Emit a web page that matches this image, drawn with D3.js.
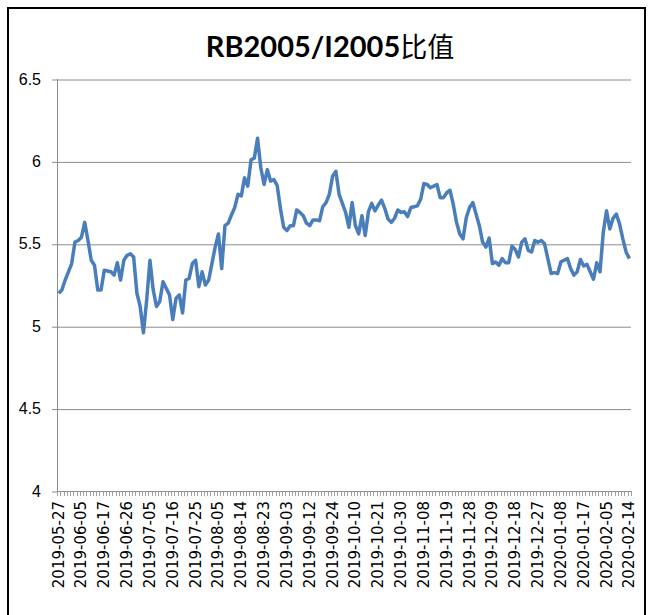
<html>
<head>
<meta charset="utf-8">
<title>RB2005/I2005比值</title>
<script src="https://d3js.org/d3.v7.min.js"></script>
<style>
  body { margin: 0; background: #fff; }
  .grid line { stroke: #8c8c8c; stroke-width: 1px; }
  .grid .domain { display: none; }
  .yaxis text { font-family: "Liberation Sans", Arial, sans-serif; font-size: 16px; fill: #000; }
  .xaxis text { font-family: "DejaVu Sans", sans-serif; font-size: 15px; fill: #000; }
  .line { fill: none; stroke: #4a7ebb; stroke-width: 3.5px; stroke-linejoin: round; }
</style>
</head>
<body>
<div id="chart"></div>
<script>
// trading days, one row per month
var dates = [
  "2019-05-27","2019-05-28","2019-05-29","2019-05-30","2019-05-31",
  "2019-06-03","2019-06-04","2019-06-05","2019-06-06","2019-06-10","2019-06-11","2019-06-12","2019-06-13","2019-06-14","2019-06-17","2019-06-18","2019-06-19","2019-06-20","2019-06-21","2019-06-24","2019-06-25","2019-06-26","2019-06-27","2019-06-28",
  "2019-07-01","2019-07-02","2019-07-03","2019-07-04","2019-07-05","2019-07-08","2019-07-09","2019-07-10","2019-07-11","2019-07-12","2019-07-15","2019-07-16","2019-07-17","2019-07-18","2019-07-19","2019-07-22","2019-07-23","2019-07-24","2019-07-25","2019-07-26","2019-07-29","2019-07-30","2019-07-31",
  "2019-08-01","2019-08-02","2019-08-05","2019-08-06","2019-08-07","2019-08-08","2019-08-09","2019-08-12","2019-08-13","2019-08-14","2019-08-15","2019-08-16","2019-08-19","2019-08-20","2019-08-21","2019-08-22","2019-08-23","2019-08-26","2019-08-27","2019-08-28","2019-08-29","2019-08-30",
  "2019-09-02","2019-09-03","2019-09-04","2019-09-05","2019-09-06","2019-09-09","2019-09-10","2019-09-11","2019-09-12","2019-09-16","2019-09-17","2019-09-18","2019-09-19","2019-09-20","2019-09-23","2019-09-24","2019-09-25","2019-09-26","2019-09-27","2019-09-30",
  "2019-10-08","2019-10-09","2019-10-10","2019-10-11","2019-10-14","2019-10-15","2019-10-16","2019-10-17","2019-10-18","2019-10-21","2019-10-22","2019-10-23","2019-10-24","2019-10-25","2019-10-28","2019-10-29","2019-10-30","2019-10-31",
  "2019-11-01","2019-11-04","2019-11-05","2019-11-06","2019-11-07","2019-11-08","2019-11-11","2019-11-12","2019-11-13","2019-11-14","2019-11-15","2019-11-18","2019-11-19","2019-11-20","2019-11-21","2019-11-22","2019-11-25","2019-11-26","2019-11-27","2019-11-28","2019-11-29",
  "2019-12-02","2019-12-03","2019-12-04","2019-12-05","2019-12-06","2019-12-09","2019-12-10","2019-12-11","2019-12-12","2019-12-13","2019-12-16","2019-12-17","2019-12-18","2019-12-19","2019-12-20","2019-12-23","2019-12-24","2019-12-25","2019-12-26","2019-12-27","2019-12-30","2019-12-31",
  "2020-01-02","2020-01-03","2020-01-06","2020-01-07","2020-01-08","2020-01-09","2020-01-10","2020-01-13","2020-01-14","2020-01-15","2020-01-16","2020-01-17","2020-01-20","2020-01-21","2020-01-22","2020-01-23",
  "2020-02-03","2020-02-04","2020-02-05","2020-02-06","2020-02-07","2020-02-10","2020-02-11","2020-02-12","2020-02-13","2020-02-14"
];

// RB2005 / I2005 ratio
var ratio = [
  5.20,5.22,5.28,5.33,5.38,
  5.51,5.52,5.54,5.63,5.52,5.40,5.37,5.22,5.22,5.34,5.335,5.33,5.31,5.385,5.28,5.40,5.43,5.44,5.42,
  5.20,5.12,4.96,5.16,5.40,5.22,5.12,5.15,5.27,5.23,5.19,5.04,5.17,5.19,5.08,5.28,5.29,5.38,5.40,5.24,5.33,5.25,5.28,
  5.38,5.48,5.56,5.35,5.61,5.625,5.675,5.72,5.80,5.79,5.90,5.85,6.01,6.02,6.14,5.96,5.86,5.95,5.88,5.89,5.855,5.715,
  5.60,5.58,5.61,5.61,5.705,5.69,5.67,5.625,5.61,5.645,5.645,5.64,5.725,5.75,5.80,5.91,5.94,5.80,5.745,5.69,
  5.60,5.75,5.61,5.56,5.67,5.55,5.695,5.745,5.70,5.735,5.765,5.715,5.65,5.63,5.655,5.705,5.69,5.695,
  5.665,5.72,5.725,5.73,5.77,5.865,5.86,5.84,5.85,5.86,5.78,5.78,5.81,5.825,5.74,5.63,5.56,5.53,5.66,5.72,5.75,
  5.68,5.61,5.51,5.48,5.535,5.38,5.39,5.37,5.41,5.385,5.385,5.485,5.465,5.42,5.51,5.53,5.46,5.45,5.52,5.51,5.52,5.50,
  5.41,5.32,5.325,5.32,5.39,5.40,5.41,5.35,5.31,5.33,5.405,5.365,5.375,5.33,5.285,5.385,
  5.33,5.57,5.70,5.59,5.655,5.68,5.62,5.53,5.45,5.41
];

var tickLabels = [
  "2019-05-27","2019-06-05","2019-06-17","2019-06-26","2019-07-05","2019-07-16","2019-07-25",
  "2019-08-05","2019-08-14","2019-08-23","2019-09-03","2019-09-12","2019-09-24","2019-10-10",
  "2019-10-21","2019-10-30","2019-11-08","2019-11-19","2019-11-28","2019-12-09","2019-12-18",
  "2019-12-27","2020-01-08","2020-01-17","2020-02-05","2020-02-14"
];

var yTicks = [4, 4.5, 5, 5.5, 6, 6.5];

var width = 651, height = 615;
var margin = {top: 79, right: 20, bottom: 124, left: 57};
var w = width - margin.left - margin.right,
    h = height - margin.top - margin.bottom;

var svg = d3.select("#chart").append("svg")
    .attr("width", width)
    .attr("height", height);

// outer frame
svg.append("rect")
    .attr("x", 8).attr("y", 8)
    .attr("width", 637).attr("height", 640)
    .attr("fill", "none").attr("stroke", "#000").attr("stroke-width", 2);

svg.append("text")
    .attr("x", 330).attr("y", 57)
    .attr("text-anchor", "middle")
    .selectAll("tspan")
    .data([{t: "RB2005/I2005", b: true}, {t: "比值", b: false}])
    .enter().append("tspan")
    .style("font-weight", function (d) { return d.b ? "bold" : "normal"; })
    .style("font-size", function (d) { return d.b ? "29px" : "27px"; })
    .style("font-family", function (d) { return d.b ? "Lato, sans-serif" : "'Noto Sans CJK SC', sans-serif"; })
    .text(function (d) { return d.t; });

var g = svg.append("g")
    .attr("transform", "translate(" + margin.left + "," + margin.top + ")");

var x = d3.scaleBand().domain(dates).range([0, w]).paddingInner(0).paddingOuter(0);
var y = d3.scaleLinear().domain([4, 6.5]).range([h, 0]);

// horizontal gridlines
g.append("g").attr("class", "grid")
    .call(d3.axisLeft(y).tickValues(yTicks.slice(1)).tickSize(-w).tickFormat(""))
    .selectAll("line").attr("transform", "translate(0,0.5)");

// y axis
var ya = g.append("g").attr("class", "yaxis")
    .call(d3.axisLeft(y).tickValues(yTicks).tickSize(5).tickPadding(11).tickFormat(d3.format("")));
ya.selectAll("line").attr("stroke", "#8c8c8c").attr("transform", "translate(0,0.5)");
ya.select(".domain").attr("stroke", "#8c8c8c").attr("d", "M0.5,0V" + h);

// x axis line and small ticks at category edges
var xa = g.append("g").attr("class", "xaxis")
    .attr("transform", "translate(0," + h + ")");
xa.append("line")
    .attr("x1", 0).attr("x2", w).attr("y1", 0.5).attr("y2", 0.5)
    .attr("stroke", "#8c8c8c");
xa.selectAll(".edge")
    .data(dates.concat([null]))
    .enter().append("line")
    .attr("class", "edge")
    .attr("x1", function (d, i) { return Math.round(i * x.bandwidth()) + 0.5; })
    .attr("x2", function (d, i) { return Math.round(i * x.bandwidth()) + 0.5; })
    .attr("y1", 0).attr("y2", 5)
    .attr("stroke", "#a0a0a0");
xa.selectAll(".lbl")
    .data(tickLabels)
    .enter().append("text")
    .attr("class", "lbl")
    .attr("transform", function (d) {
        return "translate(" + (x(d) + x.bandwidth() / 2 + 5) + ",10) rotate(-90)";
    })
    .attr("text-anchor", "end")
    .text(function (d) { return d; });

var line = d3.line()
    .x(function (d, i) { return x(dates[i]) + x.bandwidth() / 2; })
    .y(function (d) { return y(d); });

g.append("path")
    .datum(ratio)
    .attr("class", "line")
    .attr("d", line);
</script>
</body>
</html>
